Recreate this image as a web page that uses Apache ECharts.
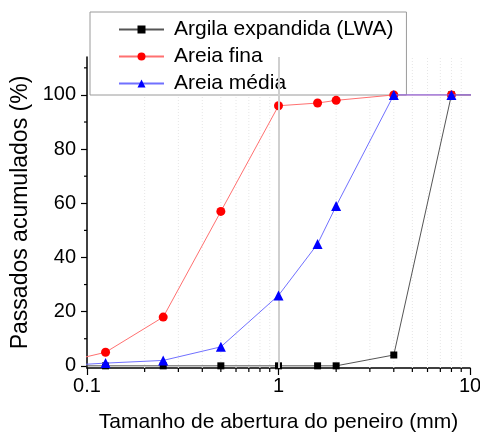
<!DOCTYPE html>
<html>
<head>
<meta charset="utf-8">
<script src="https://cdn.jsdelivr.net/npm/echarts@6/dist/echarts.min.js"></script>
<style>
  html, body { margin: 0; padding: 0; background: #fff; }
  #chart { width: 480px; height: 432px; }
</style>
</head>
<body>
<div id="chart"></div>
<script>
// abertura das peneiras (mm) - o primeiro e o ultimo ficam fora da escala
const sieves = [0.075, 0.125, 0.25, 0.5, 1, 1.6, 2, 4, 8, 16]
// passados acumulados (%)
const argila = [0, 0, 0, 0, 0, 0, 0, 4, 100, 100]
const areiaFina = [1.3, 5, 18, 57, 96, 97, 98, 100, 100, 100]
const areiaMedia = [0.1, 1, 2, 7, 26, 45, 59, 100, 100, 100]

const seriesNames = ['Argila expandida (LWA)', 'Areia fina', 'Areia média']
const yTicks = [0, 20, 40, 60, 80, 100]
const yMinorTicks = [10, 30, 50, 70, 90, 110]
const xMinorTicks = [0.2, 0.3, 0.4, 0.5, 0.6, 0.7, 0.8, 0.9, 2, 3, 4, 5, 6, 7, 8, 9]

const xMin = 0.1, xMax = 10
const yMin = -0.8, yMax = 114
const font = 'Liberation Sans, Arial, sans-serif'

const pairs = ys => sieves.map((x, i) => [x, ys[i]])

const chart = echarts.init(document.getElementById('chart'))
chart.setOption({
  animation: false,
  textStyle: {fontFamily: font},
  grid: {left: 87, right: 10, top: 57, bottom: 64, outerBoundsMode: 'none', containLabel: false},
  legend: {
    data: seriesNames,
    orient: 'vertical',
    left: 90,
    top: 12,
    padding: [7, 13, 1, 28],
    itemGap: 6,
    itemWidth: 45,
    itemHeight: 10,
    backgroundColor: '#fff',
    borderColor: '#9a9a9a',
    borderWidth: 1,
    textStyle: {fontSize: 21, color: '#000', lineHeight: 20, padding: [0, 0, 0, 5], fontFamily: font}
  },
  xAxis: {
    type: 'log',
    logBase: 10,
    min: xMin,
    max: xMax,
    name: 'Tamanho de abertura do peneiro (mm)',
    nameLocation: 'middle',
    nameGap: 44,
    nameTextStyle: {fontSize: 21, color: '#000', fontFamily: font},
    axisLine: {onZero: false, lineStyle: {color: '#000', width: 1.5}},
    axisTick: {show: true, inside: false, length: 7, lineStyle: {color: '#000', width: 1.2}},
    axisLabel: {fontSize: 20, color: '#000', margin: 8, fontFamily: font},
    splitLine: {show: false},
    minorTick: {show: false}
  },
  yAxis: {
    type: 'value',
    min: yMin,
    max: yMax,
    name: 'Passados acumulados (%)',
    nameLocation: 'middle',
    nameGap: 46,
    nameTextStyle: {fontSize: 23, color: '#000', fontFamily: font},
    axisLine: {show: true, lineStyle: {color: '#000', width: 1.5}},
    axisTick: {show: true, length: 6, customValues: yTicks, lineStyle: {color: '#000', width: 1.2}},
    axisLabel: {fontSize: 20, color: '#000', margin: 11, customValues: yTicks, fontFamily: font},
    splitLine: {show: false}
  },
  series: [
    {
      // grade secundaria e tracos menores do eixo x
      type: 'custom',
      silent: true,
      z: 1,
      data: xMinorTicks.map(v => [v, 0]),
      renderItem: (params, api) => {
        const v = api.value(0)
        const bottom = api.coord([v, yMin])
        const top = api.coord([v, yMax])
        return {
          type: 'group',
          children: [
            {type: 'line', shape: {x1: bottom[0], y1: bottom[1], x2: top[0], y2: top[1]},
              style: {stroke: '#e6e6e6', lineWidth: 1, lineDash: [1, 2]}},
            {type: 'line', shape: {x1: bottom[0], y1: bottom[1], x2: bottom[0], y2: bottom[1] + 4},
              style: {stroke: '#000', lineWidth: 1.2}}
          ]
        }
      }
    },
    {
      // tracos menores do eixo y
      type: 'custom',
      silent: true,
      z: 1,
      data: yMinorTicks.map(v => [xMin, v]),
      renderItem: (params, api) => {
        const p = api.coord([xMin, api.value(1)])
        return {
          type: 'line',
          shape: {x1: p[0] - 3, y1: p[1], x2: p[0], y2: p[1]},
          style: {stroke: '#000', lineWidth: 1.2}
        }
      }
    },
    {
      name: seriesNames[0],
      type: 'line',
      data: pairs(argila),
      symbol: 'rect',
      symbolSize: 7,
      z: 3,
      lineStyle: {color: '#555', width: 1},
      itemStyle: {color: '#000'},
      markLine: {
        silent: true,
        symbol: 'none',
        label: {show: false},
        lineStyle: {color: '#cfcfcf', width: 2, type: 'solid'},
        data: [{xAxis: 1}]
      }
    },
    {
      name: seriesNames[1],
      type: 'line',
      data: pairs(areiaFina),
      symbol: 'circle',
      symbolSize: 9,
      z: 4,
      lineStyle: {color: '#ff7070', width: 1},
      itemStyle: {color: '#ff0000'}
    },
    {
      name: seriesNames[2],
      type: 'line',
      data: pairs(areiaMedia),
      symbol: 'triangle',
      symbolSize: 10,
      z: 5,
      lineStyle: {color: '#7070ff', width: 1},
      itemStyle: {color: '#0000ff'}
    }
  ]
})
</script>
</body>
</html>
